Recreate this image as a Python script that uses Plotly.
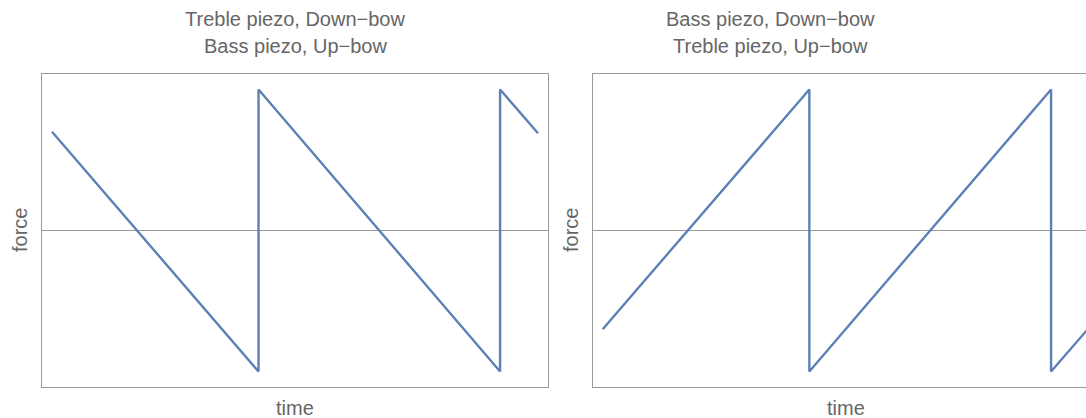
import plotly.graph_objects as go

# Sawtooth force trace: vertex times (periods) and normalised force
time_pts = [0.0, 0.855, 0.855, 1.855, 1.855, 2.012]
force_treble_down = [0.70, -1.0, 1.0, -1.0, 1.0, 0.69]
force_bass_down = [-0.70, 1.0, -1.0, 1.0, -1.0, -0.69]

titles_left = ["Treble piezo, Down\u2212bow", "Bass piezo, Up\u2212bow"]
titles_right = ["Bass piezo, Down\u2212bow", "Treble piezo, Up\u2212bow"]

LINE_COLOR = "#5E81B5"
FRAME_COLOR = "#9a9a9a"
TEXT_COLOR = "#666666"
FONT = "Liberation Sans, Arial, Helvetica, sans-serif"

W, H = 1110, 418
ML, MR, MT, MB = 42, 11, 74, 31
plot_w = W - ML - MR
left_dom = [0.0, (548 - 42) / plot_w]
right_dom = [(592.7 - 42) / plot_w, 1.0]

fig = go.Figure()
fig.add_trace(go.Scatter(x=time_pts, y=force_treble_down, mode="lines",
                         line=dict(color=LINE_COLOR, width=2.4),
                         xaxis="x", yaxis="y", showlegend=False, hoverinfo="skip"))
fig.add_trace(go.Scatter(x=time_pts, y=force_bass_down, mode="lines",
                         line=dict(color=LINE_COLOR, width=2.4),
                         xaxis="x2", yaxis="y2", showlegend=False, hoverinfo="skip"))

# x range with ~2% padding around the data
t0, t1 = time_pts[0], time_pts[-1]
pad = (t1 - t0) * 10 / 487
xr = [t0 - pad, t1 + pad]
yr = [-1.11, 1.11]

axis_common = dict(showgrid=False, showticklabels=False, ticks="",
                   showline=True, linecolor=FRAME_COLOR, linewidth=1.3,
                   mirror=True, zeroline=False)

fig.update_layout(
    width=W, height=H,
    margin=dict(l=ML, r=MR, t=MT, b=MB, pad=0),
    plot_bgcolor="white", paper_bgcolor="white",
    font=dict(family=FONT, size=20, color=TEXT_COLOR),
    xaxis=dict(domain=left_dom, range=xr, anchor="y", **axis_common),
    yaxis=dict(domain=[0, 1], range=yr, anchor="x", **axis_common),
    xaxis2=dict(domain=right_dom, range=xr, anchor="y2", **axis_common),
    yaxis2=dict(domain=[0, 1], range=yr, anchor="x2", **axis_common),
)

# horizontal zero axis in each panel
for xref, yref in [("x", "y"), ("x2", "y2")]:
    fig.add_shape(type="line", xref=f"{xref} domain", yref=yref,
                  x0=0, x1=1, y0=0, y1=0,
                  line=dict(color=FRAME_COLOR, width=1.2), layer="below")

def px_x(p):
    return (p - ML) / plot_w

def px_y(p):
    return (H - MB - p) / (H - MT - MB)

ann = []
for cx, lines in [(295, titles_left), (770, titles_right)]:
    for i, txt in enumerate(lines):
        ann.append(dict(text=txt, xref="paper", yref="paper",
                        x=px_x(cx), y=px_y(19 + 27 * i),
                        xanchor="center", yanchor="middle", showarrow=False))
for cx in [295, 846]:
    ann.append(dict(text="time", xref="paper", yref="paper",
                    x=px_x(cx), y=px_y(408), xanchor="center", yanchor="middle",
                    showarrow=False))
for cx in [20, 571]:
    ann.append(dict(text="force", xref="paper", yref="paper",
                    x=px_x(cx), y=px_y(230), xanchor="center", yanchor="middle",
                    textangle=-90, showarrow=False))
fig.update_layout(annotations=ann)

fig.write_html("out.html",
               post_script="document.documentElement.style.overflow='hidden';"
                           "document.body.style.overflow='hidden';")
